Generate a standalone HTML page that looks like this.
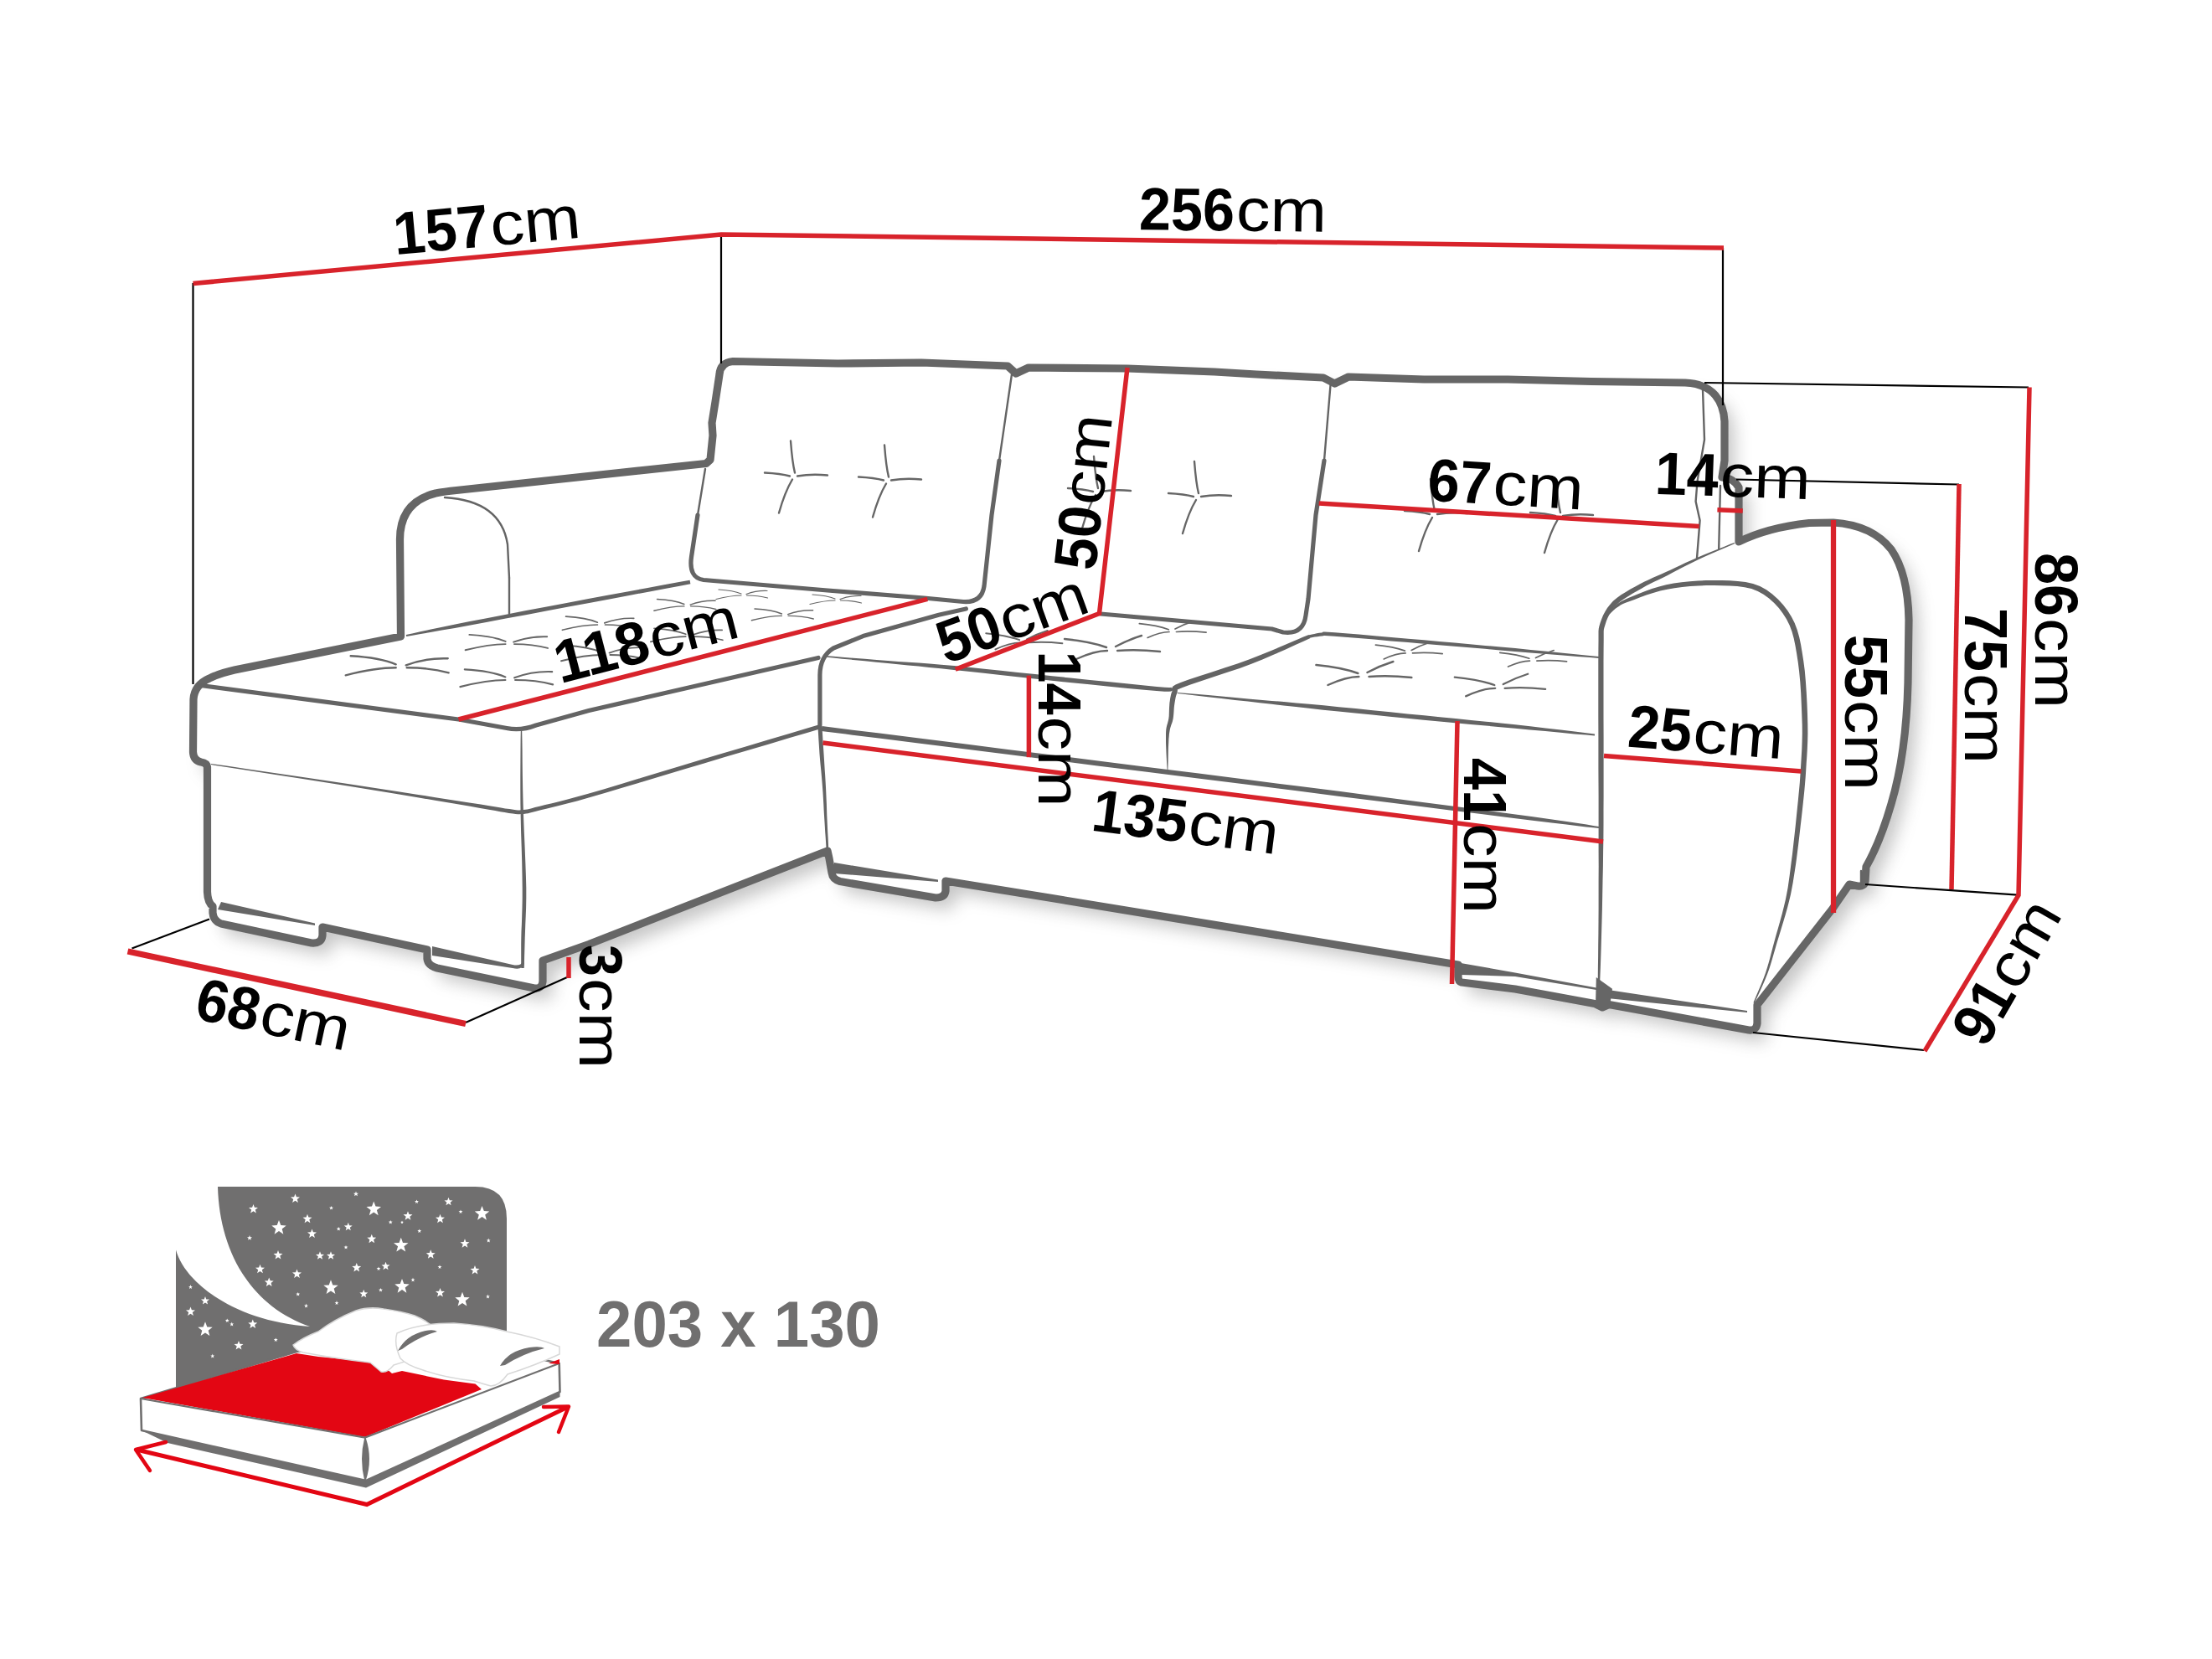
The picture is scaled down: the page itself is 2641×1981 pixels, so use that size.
<!DOCTYPE html>
<html><head><meta charset="utf-8"><title>Sofa dimensions</title>
<style>
html,body{margin:0;padding:0;background:#fff;}
body{width:2641px;height:1981px;overflow:hidden;}
svg{display:block;}
text{font-family:"Liberation Sans",sans-serif;}
.dg{font-size:72px;font-weight:bold;fill:#000;}
.cm{font-size:72px;fill:#000;}
.r{stroke:#d8232b;stroke-width:5.5;fill:none;}
.k{stroke:#000;stroke-width:2.2;fill:none;}
.T{stroke:#666666;stroke-width:9.2;fill:none;stroke-linejoin:round;stroke-linecap:round;}
.M{stroke:#646464;stroke-width:5.2;fill:none;stroke-linejoin:round;stroke-linecap:round;}
.S{stroke:#646464;stroke-width:2.4;fill:none;stroke-linejoin:round;stroke-linecap:round;}
.t{stroke:#666666;stroke-width:2.4;fill:none;stroke-linecap:round;}
</style></head><body>
<svg width="2641" height="1981" viewBox="0 0 2641 1981">
<defs>
<filter id="sh" x="-10%" y="-10%" width="120%" height="120%"><feGaussianBlur stdDeviation="10"/></filter>
<path id="sil" d="M247.5,1065 L247.5,916 Q247,911 240,910 Q231,908 230.5,898 L231,835 Q232,818 250,810 Q262,804 280,800 L478.5,760 L477.5,645 Q477,600 520,589 Q530,587 545,585.5 L843,553.5 L848,549 L851,520 L850,505 L854,480 L859,447 Q860,433 875,431.5 L1000,434 L1100,433 L1203,437 L1213,446 L1228,439 L1346,440 L1450,444 L1500,447 L1580,451 L1593.5,458 L1610,450 L1700,453 L1800,453 L1900,455.5 L2012,457 Q2036,458 2048,472 Q2058,484 2059,503 L2059,550 L2056,570 Q2070,571 2076,582 L2076,647 Q2110,630 2160,624.5 L2189,624 Q2235,627 2258,656 Q2278,685 2279,740 L2278,815 Q2276,900 2258,960 Q2245,1005 2228,1035 L2227,1052 Q2226,1059 2218,1058 L2208,1056 L2188,1085 L2098,1200 L2098,1222 Q2097,1231 2088,1230 L1921,1199.5 L1913,1203 L1904,1198.5 L1809,1181 L1745,1173 Q1741,1172 1741,1166 L1741,1152 L1256,1072.5 L1129,1052 L1129,1064 Q1128,1072 1117,1072 L1003,1052.5 Q994,1050 993,1042 L990,1025 L988,1016 L703,1127.5 L648,1147 L648,1172 Q647,1181 638,1180 L522,1156 Q511,1153 510,1145 L510,1134 L385,1107 L385,1117 Q384,1127 372,1126 L264,1103 Q255,1100 254,1090 L254,1082 Q248,1078 247.5,1065 Z"/>
<g id="tuftA" class="t"><path d="M-60,-12Q-25,-10 -6,-2"/><path d="M-66,11Q-30,2 -6,2"/><path d="M6,-1Q30,-10 56,-9"/><path d="M7,2Q35,2 57,8"/></g>
<g id="tuftB" class="t"><path d="M-56,-11Q-25,-8 -6,-1"/><path d="M-42,13Q-20,3 -5,3"/><path d="M5,-2Q20,-10 36,-15"/><path d="M7,3Q30,1 58,4"/></g>
<g id="cross" class="t"><path d="M-3,-41Q-1,-15 2,-3"/><path d="M-34,-3Q-15,-2 -4,1"/><path d="M5,1Q22,-2 41,0"/><path d="M-1,5Q-10,20 -17,45"/></g>
</defs>
<rect width="2641" height="1981" fill="#fff"/>

<!-- SHADOW -->
<g id="shadow"><use href="#sil" transform="translate(12,14)" fill="#555" opacity="0.33" filter="url(#sh)"/></g>

<!-- SOFA BODY -->
<g id="sofa">
<use href="#sil" class="T" style="fill:#fff"/>
</g>

<!-- INNER LINES -->
<g id="inner">
<!-- chaise -->
<path class="M" d="M236,818L547.5,859L605,869.5Q622,873 640,866L703,848.5L977,785.5"/>
<path class="S" d="M531,594Q598,598 606,650L608,690" stroke-width="3.3"/><path class="S" d="M608,690L608,733" stroke-width="1.8"/>
<!-- chaise feet tops -->
<path fill="#666666" d="M264,1077L376,1102.5L376,1105L260,1086Z"/>
<path fill="#666666" d="M516,1130L612,1152Q622,1154 624,1148L626,1150Q624,1159 612,1156L516,1141Z"/>
<!-- back cushions -->
<path class="S" d="M842,560L833,615" />
<path class="M" d="M833,615L825.5,665Q822,690 840,692.5L988,705L1103,714L1150,718.5Q1172,720 1175,700L1184,615L1193,550"/>
<path class="S" d="M1193,550L1208,447"/>
<path class="M" d="M1314,733L1518.5,751L1532,755Q1556,758 1559,735L1562,715L1571,615L1581,550" stroke-width="5.6"/>
<path class="S" d="M1581,550L1588.5,460"/>
<path class="S" d="M2033,465L2035,525L2026.5,575L2024.6,598.8L2029.6,621.4L2026,666.6" stroke-width="1.8"/>
<path class="S" d="M2054,580L2052.2,655"/>
<!-- main seat -->
<path class="M" d="M978.9,866L978.9,806Q979,784 995,774L1030.4,759.6L1120.8,734.2L1153.4,727"/>
<!-- main feet tops -->
<path fill="#666666" d="M996,1030L1120,1050.5L1120,1053L996,1043Z"/>
<path fill="#666666" d="M1744,1150L1809,1161.5L1906,1179.5L1906,1182L1809,1166L1744,1164Z"/>
<path fill="#666666" d="M1920,1182L2086,1207L2086,1209L1919,1192Z"/>
<path class="S" d="M2222,1040V1056"/>
<path fill="#666666" d="M1905.8,1167L1925,1180.7L1922,1201L1905,1201Z"/>
<!-- tapered -->
<path fill="#646464" d="M485.2,760.0L492.6,758.8L502.2,757.1L513.9,755.1L527.5,752.6L543.1,749.9L560.4,746.8L580.6,743.0L603.9,738.6L629.1,733.9L654.9,729.0L680.1,724.3L703.5,720.0L726.3,715.7L749.9,711.2L772.9,706.9L793.9,703.0L811.5,699.7L824.4,697.3L823.6,692.7L810.7,695.1L793.0,698.3L772.0,702.2L749.0,706.4L725.4,710.8L702.5,715.0L679.2,719.5L654.0,724.2L628.2,729.1L603.0,733.9L579.7,738.4L559.6,742.2L542.3,745.8L526.8,749.0L513.2,751.8L501.7,754.3L492.1,756.4L484.8,758.0Z"/>
<path fill="#646464" d="M251.9,913.1L270.5,916.0L296.5,920.0L327.1,924.8L359.7,929.8L391.5,934.8L419.8,939.3L445.8,943.5L471.9,947.8L497.2,952.0L520.9,956.0L542.0,959.6L559.7,962.6L573.3,964.9L583.6,966.7L591.3,968.1L597.3,969.2L602.5,970.1L607.7,970.9L612.3,971.5L615.6,971.9L618.1,972.2L620.3,972.2L622.5,972.1L625.2,971.9L628.1,971.6L630.5,971.2L633.0,970.6L636.0,969.8L640.0,968.7L645.6,967.3L652.1,965.7L659.2,964.1L667.3,962.1L677.0,959.6L689.0,956.4L703.7,952.3L721.9,947.0L743.5,940.6L767.2,933.5L792.0,926.0L816.9,918.5L840.7,911.4L865.3,904.1L891.8,896.2L918.3,888.4L942.9,881.1L963.7,874.9L978.7,870.5L977.3,865.5L962.2,870.0L941.5,876.2L916.8,883.5L890.3,891.4L863.8,899.3L839.3,906.6L815.5,913.8L790.6,921.3L765.8,928.8L742.1,935.9L720.6,942.4L702.3,947.7L687.7,951.8L675.8,955.0L666.1,957.5L658.0,959.4L651.0,961.1L644.4,962.7L638.8,964.1L634.8,965.2L631.9,965.9L629.6,966.4L627.4,966.8L624.8,967.1L622.2,967.3L620.2,967.4L618.4,967.4L616.1,967.2L612.9,966.8L608.3,966.1L603.2,965.4L598.1,964.6L592.1,963.6L584.3,962.3L574.0,960.6L560.3,958.4L542.6,955.7L521.5,952.4L497.8,948.7L472.4,944.7L446.2,940.7L420.2,936.7L391.9,932.5L360.0,927.7L327.4,922.9L296.7,918.4L270.7,914.6L252.1,911.9Z"/>
<path fill="#646464" d="M621.8,873.0L621.6,882.3L621.5,895.1L621.4,910.3L621.3,926.8L621.3,943.8L621.4,960.0L621.7,976.4L622.1,993.9L622.7,1011.8L623.2,1029.2L623.5,1045.6L623.7,1060.0L623.7,1072.6L623.5,1083.8L623.2,1093.9L622.9,1103.2L622.5,1111.8L622.3,1119.9L622.2,1127.8L622.2,1135.1L622.2,1141.7L622.2,1147.5L622.2,1152.3L622.3,1156.0L625.7,1156.0L625.9,1152.4L626.0,1147.6L626.1,1141.8L626.3,1135.1L626.5,1127.8L626.7,1120.1L627.0,1111.9L627.3,1103.3L627.7,1094.1L628.1,1083.9L628.3,1072.6L628.3,1060.0L627.9,1045.4L627.3,1029.1L626.6,1011.6L625.8,993.8L625.1,976.3L624.6,960.0L624.2,943.7L623.9,926.8L623.7,910.2L623.6,895.1L623.4,882.3L623.2,873.0Z"/>
<path fill="#646464" d="M986.9,784.7L994.8,785.6L1005.6,786.7L1018.5,787.9L1032.4,789.3L1046.5,790.7L1059.9,792.0L1072.2,793.2L1084.3,794.4L1096.6,795.6L1109.4,796.9L1123.3,798.3L1138.8,800.0L1155.9,801.8L1174.6,803.8L1194.3,806.0L1214.7,808.3L1235.3,810.6L1255.7,812.8L1277.3,815.0L1300.8,817.3L1324.4,819.7L1346.7,821.9L1366.0,823.8L1380.8,825.1L1390.2,825.7L1395.6,825.7L1398.2,825.4L1399.9,824.2L1399.3,824.2L1399.3,824.2L1398.7,820.8L1397.2,821.1L1396.7,821.8L1397.4,821.1L1395.6,821.1L1390.6,820.8L1381.2,819.9L1366.5,818.5L1347.2,816.6L1325.0,814.3L1301.3,811.9L1277.9,809.5L1256.3,807.2L1235.9,805.1L1215.3,802.9L1194.9,800.8L1175.2,798.7L1156.5,796.7L1139.2,795.0L1123.8,793.7L1109.8,792.6L1096.9,791.6L1084.6,790.8L1072.5,789.9L1060.1,789.0L1046.8,787.9L1032.6,786.8L1018.7,785.7L1005.8,784.7L995.0,783.8L987.1,783.3Z"/>
<path fill="#646464" d="M1562.6,757.9L1555.0,761.1L1544.6,765.6L1532.3,770.8L1518.9,776.5L1505.2,782.1L1491.9,787.2L1478.1,792.2L1462.7,797.3L1447.0,802.4L1432.1,807.3L1419.2,811.6L1409.6,815.1L1403.6,817.6L1400.4,819.5L1398.6,822.8L1399.5,825.5L1399.7,825.3L1399.6,825.3L1398.8,827.0L1398.1,829.3L1397.6,831.7L1397.1,834.2L1396.8,836.7L1396.4,839.3L1396.2,842.2L1396.0,845.4L1395.9,848.6L1395.8,851.8L1395.7,854.7L1395.4,857.4L1395.0,859.7L1394.5,861.8L1393.9,863.9L1393.3,866.0L1392.7,868.4L1392.3,871.1L1392.1,873.8L1392.0,876.5L1392.0,879.4L1392.0,882.4L1392.0,885.7L1392.1,889.5L1392.3,894.1L1392.5,899.7L1392.8,905.5L1393.1,911.2L1393.4,915.9L1393.6,919.3L1394.4,919.3L1394.5,915.9L1394.6,911.1L1394.7,905.5L1394.8,899.7L1394.9,894.1L1395.1,889.5L1395.3,885.8L1395.4,882.5L1395.7,879.5L1395.9,876.8L1396.3,874.2L1396.7,871.7L1397.2,869.4L1397.8,867.4L1398.5,865.3L1399.3,863.2L1400.0,860.9L1400.6,858.2L1401.0,855.2L1401.3,852.1L1401.5,848.9L1401.7,845.7L1402.0,842.8L1402.4,840.1L1402.8,837.6L1403.2,835.2L1403.6,833.0L1404.1,831.0L1404.7,829.2L1405.6,827.1L1405.9,824.2L1404.9,822.1L1404.8,823.2L1404.3,824.5L1406.4,823.3L1411.8,820.9L1421.3,817.5L1434.0,813.2L1448.9,808.3L1464.7,803.1L1480.1,797.9L1494.1,792.8L1507.3,787.4L1521.1,781.6L1534.4,775.7L1546.7,770.1L1556.9,765.5L1564.4,762.1Z"/>
<path fill="#646464" d="M1405.9,828.0L1415.0,829.1L1427.5,830.5L1442.3,832.2L1458.3,834.0L1474.5,835.9L1489.8,837.6L1504.1,839.2L1518.2,840.8L1532.5,842.4L1547.3,844.1L1562.9,845.8L1579.7,847.7L1598.1,849.5L1617.9,851.5L1638.5,853.6L1659.4,855.7L1680.0,857.7L1699.7,859.7L1718.7,861.5L1737.4,863.2L1755.8,864.9L1773.9,866.5L1791.5,868.2L1808.8,869.8L1826.5,871.4L1845.0,873.1L1863.1,874.8L1879.7,876.4L1893.7,877.6L1903.9,878.5L1904.1,876.5L1894.0,875.2L1880.0,873.5L1863.5,871.5L1845.4,869.4L1827.0,867.2L1809.2,865.2L1792.0,863.4L1774.3,861.7L1756.3,859.9L1737.9,858.1L1719.2,856.2L1700.3,854.3L1680.6,852.4L1660.0,850.3L1639.1,848.2L1618.5,846.1L1598.7,844.2L1580.3,842.3L1563.4,840.8L1547.8,839.4L1533.0,838.1L1518.6,836.9L1504.5,835.7L1490.2,834.4L1474.8,833.0L1458.6,831.6L1442.5,830.1L1427.6,828.8L1415.1,827.7L1406.1,827.0Z"/>
<path fill="#646464" d="M1563.3,761.7L1565.0,761.5L1567.2,761.1L1569.9,760.6L1572.7,760.2L1575.6,759.8L1578.3,759.6L1580.1,759.3L1581.2,758.6L1580.3,759.0L1581.5,759.0L1585.5,759.2L1593.3,759.8L1605.8,760.7L1622.0,762.1L1640.7,763.6L1660.8,765.4L1680.9,767.1L1699.8,768.7L1717.9,770.2L1736.3,771.7L1754.7,773.3L1773.1,774.8L1791.2,776.4L1808.8,777.9L1827.2,779.4L1846.6,780.9L1865.7,782.5L1883.3,783.9L1898.1,785.1L1908.9,785.9L1909.1,784.1L1898.3,783.0L1883.5,781.5L1865.9,779.7L1846.8,777.8L1827.5,775.9L1809.2,774.1L1791.5,772.5L1773.4,770.9L1755.1,769.2L1736.7,767.6L1718.3,765.9L1700.2,764.3L1681.2,762.7L1661.1,760.9L1641.1,759.2L1622.4,757.6L1606.1,756.2L1593.7,755.2L1585.8,754.7L1581.6,754.5L1579.7,754.6L1578.3,755.4L1578.9,755.2L1577.7,755.4L1575.0,755.8L1572.1,756.3L1569.2,756.9L1566.5,757.4L1564.3,757.9L1562.7,758.3Z"/>
<path fill="#646464" d="M980.6,873.0L1009.7,876.6L1049.4,881.6L1096.6,887.5L1148.7,894.0L1202.6,900.8L1255.6,907.5L1310.3,914.4L1369.4,921.8L1430.4,929.5L1490.9,937.1L1548.1,944.3L1599.6,950.9L1646.3,956.7L1690.4,962.2L1731.2,967.4L1768.4,972.0L1801.4,976.2L1829.7,979.7L1852.6,982.5L1870.2,984.6L1883.7,986.2L1893.9,987.4L1902.0,988.3L1908.9,989.0L1909.1,987.0L1902.3,985.9L1894.3,984.6L1884.1,983.0L1870.7,981.0L1853.1,978.4L1830.3,975.3L1802.0,971.5L1769.1,967.1L1731.9,962.3L1691.0,956.9L1647.0,951.2L1600.4,945.1L1548.8,938.6L1491.6,931.3L1431.2,923.6L1370.1,915.9L1311.0,908.4L1256.4,901.5L1203.4,894.9L1149.4,888.1L1097.4,881.6L1050.1,875.6L1010.5,870.7L981.4,867.0Z"/>
<path fill="#646464" d="M976.5,868.2L976.7,871.5L977.0,876.1L977.3,881.7L977.7,887.7L978.1,894.0L978.5,900.2L979.0,906.4L979.6,912.9L980.3,919.7L980.9,926.5L981.5,933.4L982.0,940.1L982.5,946.8L982.9,953.6L983.3,960.4L983.6,967.1L984.0,973.7L984.4,980.1L984.8,986.6L985.2,993.4L985.7,1000.1L986.1,1006.2L986.4,1011.3L986.7,1015.1L989.3,1014.9L989.1,1011.2L988.9,1006.0L988.6,999.9L988.2,993.2L987.9,986.4L987.6,979.9L987.3,973.5L987.1,967.0L986.9,960.2L986.6,953.4L986.3,946.6L986.0,939.9L985.6,933.1L985.2,926.2L984.7,919.3L984.3,912.6L983.9,906.0L983.5,899.8L983.1,893.7L982.7,887.4L982.3,881.3L982.0,875.9L981.7,871.2L981.5,867.8Z"/>
<path fill="#646464" d="M2070.7,647.9L2065.7,649.8L2058.7,652.7L2050.4,656.0L2041.6,659.6L2033.0,663.1L2025.5,666.3L2018.8,669.2L2012.4,672.1L2006.3,674.9L2000.4,677.7L1994.7,680.4L1989.0,683.0L1983.6,685.5L1978.3,687.8L1973.1,690.1L1968.0,692.4L1962.9,694.8L1957.7,697.5L1952.3,700.5L1946.6,703.6L1941.0,706.9L1935.5,710.3L1930.4,714.0L1925.9,717.8L1922.2,721.9L1919.0,726.1L1916.3,730.4L1914.0,734.8L1912.1,739.4L1910.5,744.1L1909.4,747.8L1908.8,750.6L1908.5,753.6L1908.5,757.8L1908.5,764.4L1908.4,775.0L1908.3,790.6L1908.3,810.6L1908.3,833.1L1908.3,856.7L1908.4,879.5L1908.4,900.0L1908.4,918.1L1908.5,935.2L1908.6,951.6L1908.6,967.6L1908.6,983.6L1908.6,1000.0L1908.6,1017.0L1908.7,1034.3L1908.6,1051.7L1908.6,1068.7L1908.6,1084.9L1908.5,1100.0L1908.4,1114.4L1908.2,1128.7L1908.1,1142.2L1907.9,1154.3L1907.8,1164.5L1907.8,1172.0L1910.2,1172.0L1910.5,1164.5L1910.9,1154.4L1911.3,1142.3L1911.7,1128.8L1912.1,1114.5L1912.5,1100.0L1912.9,1085.0L1913.2,1068.8L1913.5,1051.8L1913.9,1034.4L1914.1,1017.0L1914.4,1000.0L1914.5,983.6L1914.5,967.6L1914.6,951.6L1914.6,935.2L1914.6,918.1L1914.6,900.0L1914.6,879.5L1914.5,856.7L1914.5,833.1L1914.5,810.6L1914.5,790.6L1914.6,775.0L1914.7,764.5L1914.7,757.8L1914.7,753.9L1914.9,751.6L1915.4,749.4L1916.5,745.9L1917.9,741.6L1919.6,737.4L1921.6,733.4L1924.0,729.5L1926.8,725.8L1930.1,722.2L1934.1,718.6L1938.8,715.2L1944.0,711.9L1949.5,708.6L1955.0,705.5L1960.3,702.5L1965.4,699.6L1970.3,697.1L1975.3,694.6L1980.3,692.2L1985.5,689.7L1991.0,687.0L1996.5,684.1L2002.2,681.1L2007.9,678.1L2013.9,675.0L2020.0,671.9L2026.5,668.7L2034.0,665.3L2042.4,661.6L2051.1,657.8L2059.3,654.3L2066.3,651.3L2071.3,649.1Z"/>
<path fill="#646464" d="M1919.5,735.5L1920.8,734.3L1922.4,732.7L1924.4,730.8L1926.5,728.7L1928.7,726.8L1930.9,725.2L1932.9,723.9L1934.5,722.8L1936.3,721.8L1938.4,720.8L1941.5,719.5L1945.8,718.0L1951.4,715.9L1958.2,713.3L1965.7,710.6L1973.8,708.0L1982.2,705.6L1990.6,703.7L1999.2,702.3L2008.4,701.0L2018.0,700.1L2027.6,699.4L2037.2,699.1L2046.5,699.1L2055.7,699.3L2065.1,699.5L2074.2,700.1L2083.0,701.3L2091.2,703.1L2098.7,705.9L2105.5,709.7L2112.1,714.5L2118.2,720.0L2123.8,726.1L2128.8,732.7L2133.1,739.6L2136.7,746.7L2139.5,754.2L2141.7,762.3L2143.5,771.0L2145.1,780.3L2146.7,790.5L2148.1,801.8L2149.3,814.3L2150.2,827.5L2150.8,840.8L2151.3,853.5L2151.7,865.1L2151.8,875.4L2151.6,885.1L2151.3,894.2L2150.8,903.0L2150.3,911.4L2149.8,919.8L2149.3,927.6L2148.8,934.7L2148.2,941.6L2147.5,948.6L2146.8,956.1L2145.9,964.7L2144.9,974.6L2143.8,985.6L2142.5,997.2L2141.2,1008.7L2140.0,1019.7L2138.7,1029.6L2137.6,1038.2L2136.6,1045.9L2135.6,1053.0L2134.6,1059.9L2133.3,1067.0L2131.8,1074.5L2129.9,1082.6L2127.7,1091.2L2125.3,1099.9L2122.9,1108.5L2120.5,1116.8L2118.4,1124.5L2116.5,1131.6L2114.8,1138.1L2113.2,1144.3L2111.5,1150.3L2109.8,1156.1L2107.9,1162.1L2105.5,1168.5L2102.8,1175.2L2099.9,1182.0L2097.2,1188.2L2095.0,1193.4L2093.4,1197.2L2094.6,1197.8L2096.4,1194.0L2098.8,1188.9L2101.7,1182.7L2104.7,1176.1L2107.6,1169.3L2110.1,1162.9L2112.3,1156.9L2114.2,1151.0L2116.0,1145.1L2117.7,1138.9L2119.6,1132.4L2121.6,1125.5L2124.0,1117.8L2126.5,1109.6L2129.1,1101.0L2131.7,1092.3L2134.1,1083.7L2136.2,1075.5L2138.0,1067.9L2139.4,1060.8L2140.7,1053.8L2141.8,1046.7L2143.0,1039.0L2144.3,1030.4L2145.6,1020.4L2147.0,1009.4L2148.4,997.8L2149.7,986.3L2151.0,975.2L2152.1,965.3L2153.0,956.8L2153.8,949.2L2154.5,942.2L2155.1,935.3L2155.7,928.1L2156.2,920.2L2156.7,911.8L2157.3,903.3L2157.8,894.5L2158.2,885.3L2158.4,875.5L2158.3,864.9L2158.0,853.3L2157.5,840.5L2156.8,827.1L2155.9,813.8L2154.8,801.0L2153.3,789.5L2151.7,779.3L2150.1,769.7L2148.2,760.7L2145.8,752.2L2142.7,744.1L2138.9,736.4L2134.2,729.0L2128.8,721.9L2122.8,715.4L2116.1,709.4L2109.0,704.3L2101.3,700.1L2093.0,697.0L2084.1,695.0L2074.8,693.9L2065.3,693.3L2055.9,693.0L2046.5,692.9L2037.1,693.0L2027.3,693.4L2017.5,694.2L2007.7,695.3L1998.3,696.6L1989.4,698.3L1980.8,700.4L1972.3,703.1L1964.1,706.0L1956.5,709.0L1949.8,711.7L1944.2,714.0L1939.9,715.9L1936.8,717.4L1934.5,718.7L1932.6,720.0L1931.0,721.3L1929.1,722.8L1926.9,724.8L1924.8,727.0L1922.8,729.2L1921.0,731.4L1919.5,733.2L1918.5,734.5Z"/>
</g>

<!-- TUFTS -->
<g id="tufts">
<use href="#tuftA" transform="translate(478.7,795.3)"/>
<use href="#tuftA" transform="translate(608.4,767.5) scale(.8)"/>
<use href="#tuftA" transform="translate(608.8,810.2) scale(.9)"/>
<use href="#tuftA" transform="translate(717.6,744.6) scale(.7)"/>
<use href="#tuftA" transform="translate(722.8,780.4) scale(.8)"/>
<use href="#tuftA" transform="translate(820.5,722.7) scale(.6)"/>
<use href="#tuftA" transform="translate(823,758.7) scale(.7)"/>
<use href="#tuftA" transform="translate(888,710) scale(.5)"/>
<use href="#tuftA" transform="translate(937,734.2) scale(.6)"/>
<use href="#tuftA" transform="translate(1000,716) scale(.5)"/>
<use href="#tuftB" transform="translate(1222,765) scale(.8)"/>
<use href="#tuftB" transform="translate(1327,774)"/>
<use href="#tuftB" transform="translate(1399.5,752.4) scale(.7)"/>
<use href="#tuftB" transform="translate(1627.4,805)"/>
<use href="#tuftB" transform="translate(1681.6,777.8) scale(.7)"/>
<use href="#tuftB" transform="translate(1790,819) scale(.95)"/>
<use href="#tuftB" transform="translate(1830,787) scale(.7)"/>
<use href="#cross" transform="translate(947,567.5)"/>
<use href="#cross" transform="translate(1059,572.5)"/>
<use href="#cross" transform="translate(1309,586)"/>
<use href="#cross" transform="translate(1429,592)"/>
<use href="#cross" transform="translate(1711,613)"/>
<use href="#cross" transform="translate(1861,615)"/>
</g>

<!-- THIN BLACK -->
<g id="thin" class="k">
<path d="M230.5,338V817"/>
<path d="M861,280V434"/>
<path d="M2057,296V484"/>
<path d="M2035,457L2422,462.5"/>
<path d="M2073,572.5L2339,578.5"/>
<path d="M2227,1056L2409,1068.7"/>
<path d="M2093,1233L2297,1254"/>
<path d="M157.5,1132.5L250,1097.5"/>
<path d="M556,1221L677,1167"/>
</g>

<!-- RED -->
<g id="red" class="r">
<path d="M230.5,338.5L861,280L2058,296"/>
<path d="M1346,439L1312.5,732.5L1140.7,799.3"/>
<path d="M547.5,859L1107.3,715.3"/>
<path d="M1574.7,601L2028.7,628.6"/>
<path d="M2050.4,608.7L2080.7,610"/>
<path d="M1228.4,806.6V904.2"/>
<path d="M982.5,887L1914,1005"/>
<path d="M1740,861L1733.5,1175"/>
<path d="M1915,902.5L2150.5,921"/>
<path d="M2189,621V1090" stroke-width="6.3"/>
<path d="M2339,578L2330,1062"/>
<path d="M2423,462.5L2410,1069L2298,1255"/>
<path d="M152.5,1136L556,1222.5" stroke-width="7.4"/>
<path d="M679,1143V1168"/>
</g>

<!-- LABELS -->
<g id="labels">
<g transform="translate(581,268) rotate(-5.3)"><text class="dg" x="-112.0" y="26" textLength="114.0" lengthAdjust="spacingAndGlyphs">157</text><text class="cm" x="4.0" y="26" textLength="108" lengthAdjust="spacingAndGlyphs">cm</text></g>
<g transform="translate(1472,249.5) rotate(0.6)"><text class="dg" x="-112.0" y="26" textLength="114.0" lengthAdjust="spacingAndGlyphs">256</text><text class="cm" x="4.0" y="26" textLength="108" lengthAdjust="spacingAndGlyphs">cm</text></g>
<g transform="translate(771,763) rotate(-14.5)"><text class="dg" x="-112.0" y="26" textLength="114.0" lengthAdjust="spacingAndGlyphs">118</text><text class="cm" x="4.0" y="26" textLength="108" lengthAdjust="spacingAndGlyphs">cm</text></g>
<g transform="translate(1208,737) rotate(-20)"><text class="dg" x="-93.0" y="26" textLength="76.0" lengthAdjust="spacingAndGlyphs">50</text><text class="cm" x="-15.0" y="26" textLength="108" lengthAdjust="spacingAndGlyphs">cm</text></g>
<g transform="translate(1292,587) rotate(-83.7)"><text class="dg" x="-93.0" y="26" textLength="76.0" lengthAdjust="spacingAndGlyphs">50</text><text class="cm" x="-15.0" y="26" textLength="108" lengthAdjust="spacingAndGlyphs">cm</text></g>
<g transform="translate(1798,577) rotate(3.4)"><text class="dg" x="-93.0" y="26" textLength="76.0" lengthAdjust="spacingAndGlyphs">67</text><text class="cm" x="-15.0" y="26" textLength="108" lengthAdjust="spacingAndGlyphs">cm</text></g>
<g transform="translate(2069,567) rotate(2)"><text class="dg" x="-93.0" y="26" textLength="76.0" lengthAdjust="spacingAndGlyphs">14</text><text class="cm" x="-15.0" y="26" textLength="108" lengthAdjust="spacingAndGlyphs">cm</text></g>
<g transform="translate(1265.5,870.5) rotate(90)"><text class="dg" x="-93.0" y="26" textLength="76.0" lengthAdjust="spacingAndGlyphs">14</text><text class="cm" x="-15.0" y="26" textLength="108" lengthAdjust="spacingAndGlyphs">cm</text></g>
<g transform="translate(1416,980) rotate(7.3)"><text class="dg" x="-112.0" y="26" textLength="114.0" lengthAdjust="spacingAndGlyphs">135</text><text class="cm" x="4.0" y="26" textLength="108" lengthAdjust="spacingAndGlyphs">cm</text></g>
<g transform="translate(1774,998) rotate(90)"><text class="dg" x="-93.0" y="26" textLength="76.0" lengthAdjust="spacingAndGlyphs">41</text><text class="cm" x="-15.0" y="26" textLength="108" lengthAdjust="spacingAndGlyphs">cm</text></g>
<g transform="translate(2037,873) rotate(4.5)"><text class="dg" x="-93.0" y="26" textLength="76.0" lengthAdjust="spacingAndGlyphs">25</text><text class="cm" x="-15.0" y="26" textLength="108" lengthAdjust="spacingAndGlyphs">cm</text></g>
<g transform="translate(2229,851) rotate(90)"><text class="dg" x="-93.0" y="26" textLength="76.0" lengthAdjust="spacingAndGlyphs">55</text><text class="cm" x="-15.0" y="26" textLength="108" lengthAdjust="spacingAndGlyphs">cm</text></g>
<g transform="translate(2372,819) rotate(90)"><text class="dg" x="-93.0" y="26" textLength="76.0" lengthAdjust="spacingAndGlyphs">75</text><text class="cm" x="-15.0" y="26" textLength="108" lengthAdjust="spacingAndGlyphs">cm</text></g>
<g transform="translate(2456,753) rotate(90)"><text class="dg" x="-93.0" y="26" textLength="76.0" lengthAdjust="spacingAndGlyphs">86</text><text class="cm" x="-15.0" y="26" textLength="108" lengthAdjust="spacingAndGlyphs">cm</text></g>
<g transform="translate(2394.5,1159.5) rotate(-60)"><text class="dg" x="-93.0" y="26" textLength="76.0" lengthAdjust="spacingAndGlyphs">91</text><text class="cm" x="-15.0" y="26" textLength="108" lengthAdjust="spacingAndGlyphs">cm</text></g>
<g transform="translate(327,1210) rotate(12.1)"><text class="dg" x="-93.0" y="26" textLength="76.0" lengthAdjust="spacingAndGlyphs">68</text><text class="cm" x="-15.0" y="26" textLength="108" lengthAdjust="spacingAndGlyphs">cm</text></g>
<g transform="translate(718,1202) rotate(90)"><text class="dg" x="-74.0" y="26" textLength="38.0" lengthAdjust="spacingAndGlyphs">3</text><text class="cm" x="-34.0" y="26" textLength="108" lengthAdjust="spacingAndGlyphs">cm</text></g>
<text x="712" y="1607.5" font-size="78" font-weight="bold" fill="#706f6f" textLength="339" lengthAdjust="spacingAndGlyphs">203 x 130</text>
</g>

<!-- BED ICON -->
<g id="bed">
<path fill="#706f6f" d="M260,1417L567.5,1417Q605,1417 605,1455L605,1610L210,1665L210,1492.5C222,1535 285,1578 370,1584C300,1560 262,1495 260,1417Z"/>
<path fill="#fff" d="M352.5,1425.5L353.9,1429.3L358.0,1429.5L354.8,1432.0L355.9,1435.9L352.5,1433.7L349.1,1435.9L350.2,1432.0L347.0,1429.5L351.1,1429.3ZM302.5,1438.0L303.9,1441.8L308.0,1442.0L304.8,1444.5L305.9,1448.4L302.5,1446.2L299.1,1448.4L300.2,1444.5L297.0,1442.0L301.1,1441.8ZM425.0,1422.6L425.8,1424.7L428.0,1424.8L426.3,1426.2L426.9,1428.3L425.0,1427.1L423.1,1428.3L423.7,1426.2L422.0,1424.8L424.2,1424.7ZM446.2,1434.6L448.5,1440.6L455.0,1440.9L449.9,1444.9L451.7,1451.2L446.2,1447.6L440.8,1451.2L442.6,1444.9L437.5,1440.9L444.0,1440.6ZM395.5,1439.9L396.1,1441.6L398.0,1441.7L396.5,1442.8L397.0,1444.6L395.5,1443.6L394.0,1444.6L394.5,1442.8L393.0,1441.7L394.9,1441.6ZM497.5,1432.4L498.1,1434.1L500.0,1434.2L498.5,1435.3L499.0,1437.1L497.5,1436.1L496.0,1437.1L496.5,1435.3L495.0,1434.2L496.9,1434.1ZM535.5,1429.8L536.8,1433.2L540.5,1433.4L537.6,1435.7L538.6,1439.2L535.5,1437.2L532.4,1439.2L533.4,1435.7L530.5,1433.4L534.2,1433.2ZM550.0,1444.4L550.6,1446.1L552.5,1446.2L551.0,1447.3L551.5,1449.1L550.0,1448.1L548.5,1449.1L549.0,1447.3L547.5,1446.2L549.4,1446.1ZM575.5,1440.1L577.8,1446.1L584.2,1446.4L579.2,1450.4L580.9,1456.7L575.5,1453.1L570.1,1456.7L571.8,1450.4L566.8,1446.4L573.2,1446.1ZM367.0,1449.7L368.4,1453.5L372.5,1453.7L369.3,1456.2L370.4,1460.2L367.0,1457.9L363.6,1460.2L364.7,1456.2L361.5,1453.7L365.6,1453.5ZM487.0,1446.2L488.4,1450.0L492.5,1450.2L489.3,1452.7L490.4,1456.7L487.0,1454.4L483.6,1456.7L484.7,1452.7L481.5,1450.2L485.6,1450.0ZM525.5,1449.7L526.9,1453.5L531.0,1453.7L527.8,1456.2L528.9,1460.2L525.5,1457.9L522.1,1460.2L523.2,1456.2L520.0,1453.7L524.1,1453.5ZM466.2,1456.9L466.9,1458.6L468.7,1458.7L467.3,1459.8L467.8,1461.6L466.2,1460.6L464.7,1461.6L465.2,1459.8L463.8,1458.7L465.6,1458.6ZM480.0,1457.4L480.5,1458.8L482.0,1458.9L480.8,1459.8L481.2,1461.2L480.0,1460.4L478.8,1461.2L479.2,1459.8L478.0,1458.9L479.5,1458.8ZM333.0,1457.1L335.3,1463.1L341.7,1463.4L336.7,1467.4L338.4,1473.7L333.0,1470.1L327.6,1473.7L329.3,1467.4L324.3,1463.4L330.7,1463.1ZM415.8,1459.8L417.0,1463.2L420.7,1463.4L417.8,1465.7L418.8,1469.2L415.8,1467.2L412.7,1469.2L413.7,1465.7L410.8,1463.4L414.5,1463.2ZM404.2,1464.9L404.9,1466.6L406.7,1466.7L405.3,1467.8L405.8,1469.6L404.2,1468.6L402.7,1469.6L403.2,1467.8L401.8,1466.7L403.6,1466.6ZM372.5,1467.5L373.9,1471.3L378.0,1471.5L374.8,1474.0L375.9,1477.9L372.5,1475.7L369.1,1477.9L370.2,1474.0L367.0,1471.5L371.1,1471.3ZM500.8,1467.4L501.4,1469.1L503.2,1469.2L501.8,1470.3L502.3,1472.1L500.8,1471.1L499.2,1472.1L499.7,1470.3L498.3,1469.2L500.1,1469.1ZM298.0,1475.1L298.8,1477.2L301.0,1477.3L299.3,1478.7L299.9,1480.8L298.0,1479.6L296.1,1480.8L296.7,1478.7L295.0,1477.3L297.2,1477.2ZM443.8,1473.7L445.2,1477.5L449.2,1477.7L446.1,1480.2L447.1,1484.2L443.8,1481.9L440.4,1484.2L441.4,1480.2L438.3,1477.7L442.3,1477.5ZM478.8,1477.8L481.0,1483.9L487.5,1484.2L482.4,1488.2L484.2,1494.4L478.8,1490.9L473.3,1494.4L475.1,1488.2L470.0,1484.2L476.5,1483.9ZM555.0,1479.2L556.4,1483.0L560.5,1483.2L557.3,1485.7L558.4,1489.7L555.0,1487.4L551.6,1489.7L552.7,1485.7L549.5,1483.2L553.6,1483.0ZM583.2,1478.6L583.9,1480.4L585.7,1480.4L584.3,1481.6L584.8,1483.4L583.2,1482.4L581.7,1483.4L582.2,1481.6L580.8,1480.4L582.6,1480.4ZM413.0,1486.9L413.6,1488.6L415.5,1488.7L414.0,1489.8L414.5,1491.6L413.0,1490.6L411.5,1491.6L412.0,1489.8L410.5,1488.7L412.4,1488.6ZM332.0,1493.0L333.4,1496.8L337.5,1497.0L334.3,1499.5L335.4,1503.4L332.0,1501.2L328.6,1503.4L329.7,1499.5L326.5,1497.0L330.6,1496.8ZM382.0,1494.2L383.3,1497.7L387.0,1497.9L384.1,1500.2L385.1,1503.7L382.0,1501.7L378.9,1503.7L379.9,1500.2L377.0,1497.9L380.7,1497.7ZM395.0,1494.2L396.3,1497.7L400.0,1497.9L397.1,1500.2L398.1,1503.7L395.0,1501.7L391.9,1503.7L392.9,1500.2L390.0,1497.9L393.7,1497.7ZM514.2,1492.2L515.7,1496.0L519.7,1496.2L516.6,1498.7L517.6,1502.7L514.2,1500.4L510.9,1502.7L511.9,1498.7L508.8,1496.2L512.8,1496.0ZM310.5,1509.7L311.9,1513.5L316.0,1513.7L312.8,1516.2L313.9,1520.2L310.5,1517.9L307.1,1520.2L308.2,1516.2L305.0,1513.7L309.1,1513.5ZM425.8,1508.0L427.2,1511.8L431.2,1512.0L428.1,1514.5L429.1,1518.4L425.8,1516.2L422.4,1518.4L423.4,1514.5L420.3,1512.0L424.3,1511.8ZM452.0,1512.4L452.6,1514.1L454.5,1514.2L453.0,1515.3L453.5,1517.1L452.0,1516.1L450.5,1517.1L451.0,1515.3L449.5,1514.2L451.4,1514.1ZM460.5,1506.8L461.8,1510.2L465.5,1510.4L462.6,1512.7L463.6,1516.2L460.5,1514.2L457.4,1516.2L458.4,1512.7L455.5,1510.4L459.2,1510.2ZM525.0,1510.4L525.6,1512.1L527.5,1512.2L526.0,1513.3L526.5,1515.1L525.0,1514.1L523.5,1515.1L524.0,1513.3L522.5,1512.2L524.4,1512.1ZM567.0,1511.0L568.4,1514.8L572.5,1515.0L569.3,1517.5L570.4,1521.4L567.0,1519.2L563.6,1521.4L564.7,1517.5L561.5,1515.0L565.6,1514.8ZM354.5,1515.5L355.9,1519.3L360.0,1519.5L356.8,1522.0L357.9,1525.9L354.5,1523.7L351.1,1525.9L352.2,1522.0L349.0,1519.5L353.1,1519.3ZM321.2,1525.5L322.7,1529.3L326.7,1529.5L323.6,1532.0L324.6,1535.9L321.2,1533.7L317.9,1535.9L318.9,1532.0L315.8,1529.5L319.8,1529.3ZM493.0,1525.6L493.6,1527.4L495.5,1527.4L494.0,1528.6L494.5,1530.4L493.0,1529.4L491.5,1530.4L492.0,1528.6L490.5,1527.4L492.4,1527.4ZM395.0,1528.3L397.3,1534.4L403.7,1534.7L398.7,1538.7L400.4,1544.9L395.0,1541.4L389.6,1544.9L391.3,1538.7L386.3,1534.7L392.7,1534.4ZM480.0,1527.1L482.3,1533.1L488.7,1533.4L483.7,1537.4L485.4,1543.7L480.0,1540.1L474.6,1543.7L476.3,1537.4L471.3,1533.4L477.7,1533.1ZM434.2,1539.8L435.5,1543.2L439.2,1543.4L436.3,1545.7L437.3,1549.2L434.2,1547.2L431.2,1549.2L432.2,1545.7L429.3,1543.4L433.0,1543.2ZM454.5,1537.9L455.1,1539.6L457.0,1539.7L455.5,1540.8L456.0,1542.6L454.5,1541.6L453.0,1542.6L453.5,1540.8L452.0,1539.7L453.9,1539.6ZM525.5,1538.0L526.9,1541.8L531.0,1542.0L527.8,1544.5L528.9,1548.4L525.5,1546.2L522.1,1548.4L523.2,1544.5L520.0,1542.0L524.1,1541.8ZM355.8,1542.9L356.4,1544.6L358.2,1544.7L356.8,1545.8L357.3,1547.6L355.8,1546.6L354.2,1547.6L354.7,1545.8L353.3,1544.7L355.1,1544.6ZM552.0,1542.8L554.3,1548.9L560.7,1549.2L555.7,1553.2L557.4,1559.4L552.0,1555.9L546.6,1559.4L548.3,1553.2L543.3,1549.2L549.7,1548.9ZM582.5,1545.6L583.1,1547.4L585.0,1547.4L583.5,1548.6L584.0,1550.4L582.5,1549.4L581.0,1550.4L581.5,1548.6L580.0,1547.4L581.9,1547.4ZM402.0,1553.1L402.6,1554.9L404.5,1554.9L403.0,1556.1L403.5,1557.9L402.0,1556.9L400.5,1557.9L401.0,1556.1L399.5,1554.9L401.4,1554.9ZM365.5,1556.6L366.1,1558.4L368.0,1558.4L366.5,1559.6L367.0,1561.4L365.5,1560.4L364.0,1561.4L364.5,1559.6L363.0,1558.4L364.9,1558.4ZM227.5,1534.1L228.1,1535.9L230.0,1535.9L228.5,1537.1L229.0,1538.9L227.5,1537.9L226.0,1538.9L226.5,1537.1L225.0,1535.9L226.9,1535.9ZM245.0,1548.0L246.3,1551.5L250.0,1551.6L247.1,1553.9L248.1,1557.5L245.0,1555.5L241.9,1557.5L242.9,1553.9L240.0,1551.6L243.7,1551.5ZM227.5,1560.5L228.9,1564.3L233.0,1564.5L229.8,1567.0L230.9,1570.9L227.5,1568.7L224.1,1570.9L225.2,1567.0L222.0,1564.5L226.1,1564.3ZM271.2,1574.4L271.9,1576.1L273.7,1576.2L272.3,1577.3L272.8,1579.1L271.2,1578.1L269.7,1579.1L270.2,1577.3L268.8,1576.2L270.6,1576.1ZM276.8,1578.6L277.4,1580.4L279.2,1580.4L277.8,1581.6L278.3,1583.4L276.8,1582.4L275.2,1583.4L275.7,1581.6L274.3,1580.4L276.1,1580.4ZM301.8,1575.5L303.2,1579.3L307.2,1579.5L304.1,1582.0L305.1,1585.9L301.8,1583.7L298.4,1585.9L299.4,1582.0L296.3,1579.5L300.3,1579.3ZM245.0,1578.3L247.3,1584.4L253.7,1584.7L248.7,1588.7L250.4,1594.9L245.0,1591.4L239.6,1594.9L241.3,1588.7L236.3,1584.7L242.7,1584.4ZM329.2,1597.4L329.9,1599.1L331.7,1599.2L330.3,1600.3L330.8,1602.1L329.2,1601.1L327.7,1602.1L328.2,1600.3L326.8,1599.2L328.6,1599.1ZM285.0,1601.0L286.4,1604.8L290.5,1605.0L287.3,1607.5L288.4,1611.4L285.0,1609.2L281.6,1611.4L282.7,1607.5L279.5,1605.0L283.6,1604.8ZM253.8,1616.6L254.4,1618.4L256.2,1618.4L254.8,1619.6L255.3,1621.4L253.8,1620.4L252.2,1621.4L252.7,1619.6L251.3,1618.4L253.1,1618.4Z"/>
<!-- base -->
<path d="M169,1708L437,1768L668.5,1662L668.5,1668L437,1776.500L200,1723Z" fill="#706f6f"/>
<!-- mattress -->
<path d="M168,1670L354,1614L500,1590L667.7,1628L668.5,1662L437,1768L169,1708Z" fill="#fff" stroke="#706f6f" stroke-width="2.6" stroke-linejoin="round"/>
<path d="M170,1669L354,1616L380,1620L430,1625L457.5,1631L468,1640L480,1637L530,1647.5L567.5,1652.5L575,1659L435.8,1716Z" fill="#e30613"/>
<path d="M168,1670L435.8,1716.500L667.7,1628" stroke="#706f6f" stroke-width="2.2" fill="none"/>
<path d="M436,1718Q430,1742 436,1767Q444,1742 436,1718Z" fill="#706f6f" stroke="#706f6f" stroke-width="2"/>
<!-- pillows -->
<path d="M350,1606Q362,1597 380,1590Q400,1575 425,1565Q440,1560 458,1563Q480,1566 495,1571Q512,1578 524,1590L528,1608Q500,1622 470,1630Q462,1640 455,1638Q448,1632 442,1627Q400,1622 362,1615Q352,1612 350,1606Z" fill="#fff" stroke="#d8d8d8" stroke-width="1.5"/>
<path d="M474,1592Q500,1580 542,1580Q575,1582 605,1590Q640,1597 668,1608L668,1617Q640,1630 606,1641Q596,1655 586,1655Q575,1652 566,1649Q530,1645 505,1636Q485,1630 478,1622Q470,1605 474,1592Z" fill="#fff" stroke="#d8d8d8" stroke-width="1.5"/>
<path d="M475,1613Q485,1594 508,1589Q518,1587 522,1590Q500,1596 480,1611Z" fill="#706f6f"/>
<path d="M597,1631Q607,1613 632,1609Q645,1607 650,1610Q625,1616 603,1630Z" fill="#706f6f"/>
<!-- arrows -->
<path d="M163,1731L438,1796.500L678,1680" stroke="#e30613" stroke-width="5" fill="none" stroke-linejoin="miter"/>
<path d="M198,1722L162,1731L179,1756" stroke="#e30613" stroke-width="4.5" fill="none" stroke-linecap="round" stroke-linejoin="round"/>
<path d="M649,1680L679,1679.500L667,1710" stroke="#e30613" stroke-width="4.5" fill="none" stroke-linecap="round" stroke-linejoin="round"/>
<path d="M655,1628L668,1623L668,1629Z" fill="#e30613"/>
</g>
</svg>
</body></html>
